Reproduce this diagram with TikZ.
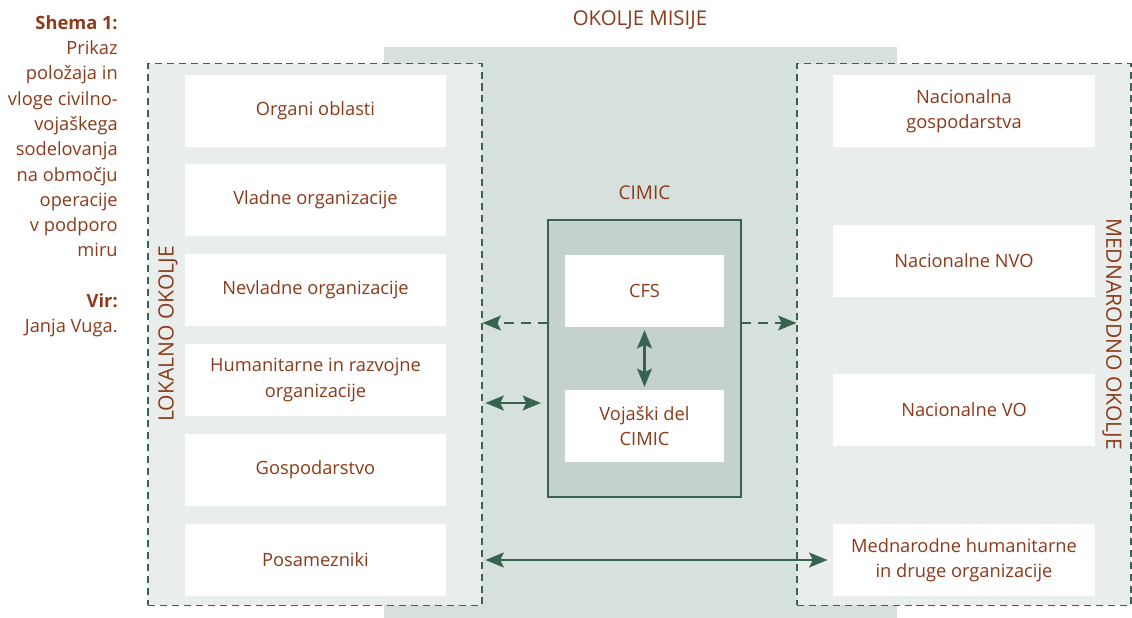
\documentclass[tikz,border=0pt]{standalone}
\usepackage{fontspec}
\setmainfont{Open Sans}
\usepackage{xcolor}
\usepackage{tikz}
\usetikzlibrary{arrows.meta,positioning}

\definecolor{txtbrown}{HTML}{8C3A1A}
\definecolor{linegreen}{HTML}{376350}
\definecolor{missionbg}{HTML}{D6E0DC}
\definecolor{zonebg}{HTML}{E9EEEC}
\definecolor{cimicbg}{HTML}{C4D1CC}

\begin{document}
\begin{tikzpicture}[
    x=0.025cm, y=-0.025cm,
    font=\fontsize{13}{18}\selectfont,
    every node/.style={text=txtbrown},
    box/.style={rectangle, fill=white, align=center, minimum width=6.525cm, minimum height=1.8cm, inner sep=2pt},
    zone/.style={rectangle, draw=linegreen, line width=0.8pt, dash pattern=on 5pt off 3.5pt, fill=zonebg, minimum width=8.35cm, minimum height=13.525cm},
    zonelabel/.style={font=\fontsize{15}{18}\selectfont},
    arrow/.style={{Stealth[length=13pt, width=10.5pt, inset=2.5pt]}-{Stealth[length=13pt, width=10.5pt, inset=2.5pt]}, line width=1.8pt, draw=linegreen},
    dasharrow/.style={-{Stealth[length=13pt, width=10.5pt, inset=2.5pt]}, line width=1.8pt, draw=linegreen, dash pattern=on 7pt off 5pt}
]
    \useasboundingbox (0,0) rectangle (1132,618);

    % mission area
    \fill[missionbg] (384,47) rectangle (897,618);
    \node[font=\fontsize{14.5}{18}\selectfont] (misija) at (640,20) {OKOLJE MISIJE};

    % local and international surroundings
    \node[zone] (lokalno) at (315,334.5) {};
    \node[zone] (mednarodno) at (964,334.5) {};
    \node[zonelabel, rotate=90] (lokalnolbl) at (168,334) {LOKALNO OKOLJE};
    \node[zonelabel, rotate=-90] (mednarodnolbl) at (1112,334) {MEDNARODNO OKOLJE};

    \node[box] (organi) at (315.5,111) {Organi oblasti};
    \node[box] (vladne) at (315.5,200) {Vladne organizacije};
    \node[box] (nevladne) at (315.5,290) {Nevladne organizacije};
    \node[box] (humanitarne) at (315.5,380) {Humanitarne in razvojne\\organizacije};
    \node[box] (gospodarstvo) at (315.5,470) {Gospodarstvo};
    \node[box] (posamezniki) at (315.5,560) {Posamezniki};

    \node[box] (nacgosp) at (964,111) {Nacionalna\\gospodarstva};
    \node[box] (nacnvo) at (964,261) {Nacionalne NVO};
    \node[box] (nacvo) at (964,410) {Nacionalne VO};
    \node[box] (medhum) at (964,560) {Mednarodne humanitarne\\in druge organizacije};

    % CIMIC
    \node[font=\fontsize{13.5}{18}\selectfont] (cimiclbl) at (644.5,193) {CIMIC};
    \node[rectangle, draw=linegreen, line width=0.8pt, fill=cimicbg, minimum width=4.825cm, minimum height=6.925cm] (cimic) at (644.5,358.5) {};
    \node[box, minimum width=3.975cm] (cfs) at (644.5,291) {CFS};
    \node[box, minimum width=3.975cm] (vojaski) at (644.5,426) {Vojaški del\\CIMIC};

    \coordinate (dl) at (548,323);
    \coordinate (dr) at (741,323);
    \coordinate (ml) at (541,403);

    \draw[dasharrow] (dl) -- (dl -| lokalno.east);
    \draw[dasharrow] (dr) -- (dr -| mednarodno.west);
    \draw[arrow, shorten <=2pt] (ml -| lokalno.east) -- (ml);
    \draw[arrow, shorten <=2pt, shorten >=2pt] (cfs.south) -- (vojaski.north);
    \draw[arrow, shorten <=2pt, shorten >=4pt] (posamezniki.east -| lokalno.east) -- (medhum.west |- posamezniki.east);

    % caption
    \node[anchor=north east, align=right, inner sep=0pt] (shema) at (118,15)
        {\textbf{Shema 1:}\\Prikaz\\položaja in\\vloge civilno-\\vojaškega\\sodelovanja\\na območju\\operacije\\v podporo\\miru\\[18pt]\textbf{Vir:}\\Janja Vuga.};
\end{tikzpicture}
\end{document}
